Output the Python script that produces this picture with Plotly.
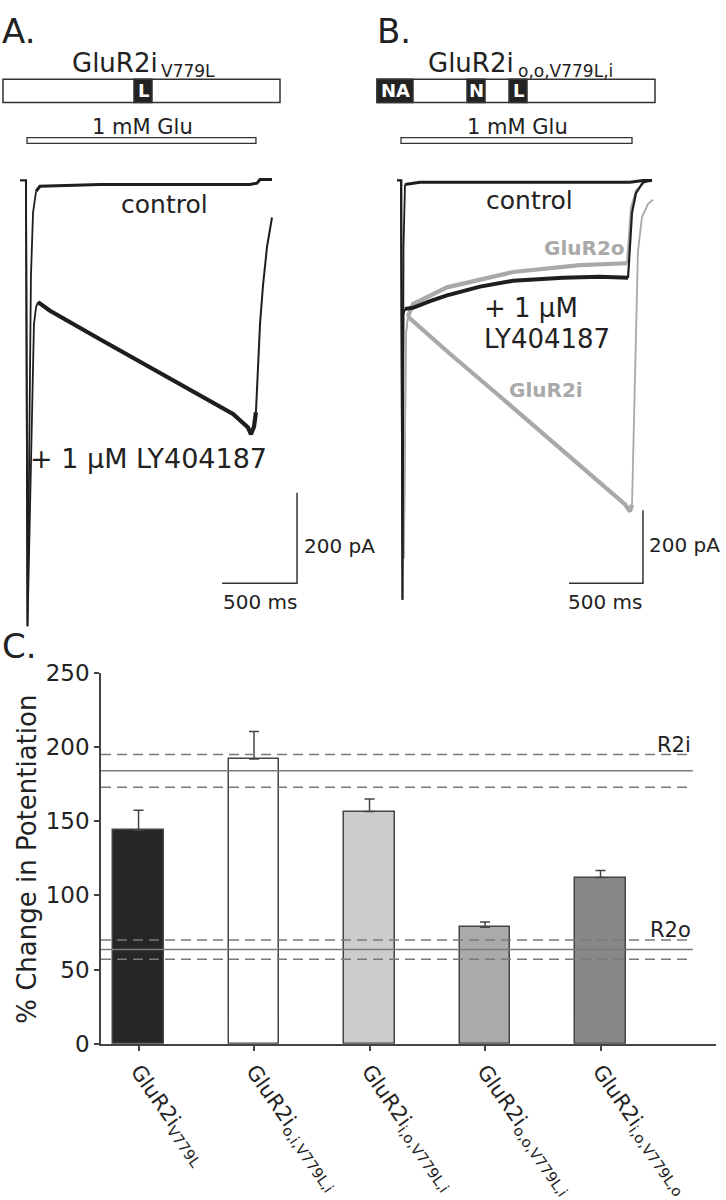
import plotly.graph_objects as go

W, H = 726, 1200
def PX(x): return x / W
def PY(y): return 1 - y / H

FONT = "DejaVu Sans"
DARK = "#222222"

# ---------------- data ----------------
# Panel A traces: time (ms) / current (pA)
a_ctrl_t = [0, 40, 50, 60, 73, 87, 107, 133, 533, 1200, 1533, 1580, 1600, 1680]
a_ctrl_i = [0, 0, -985, -662, -211, -71, -24, -13, -9, -9, -9, -6, 2, 2]
a_ly_t = [0, 40, 50, 60, 67, 80, 93, 107, 120, 200, 533, 867, 1200, 1420, 1520, 1540,
          1560, 1573, 1587, 1600, 1620, 1647, 1680]
a_ly_i = [0, 0, -985, -834, -705, -469, -318, -280, -269, -288, -351, -413, -475, -516,
          -546, -561, -544, -512, -426, -318, -232, -146, -82]
a_glu_ms = [47, 1573]

# Panel B traces
b_ctrl_t = [0, 27, 37, 44, 54, 155, 1574, 1662, 1723]
b_ctrl_i = [0, 0, -1149, -181, -11, -5, -5, 0, 0]
b_ly_t = [0, 27, 37, 44, 54, 108, 223, 338, 561, 784, 1122, 1372, 1561, 1574, 1588, 1615,
          1662, 1723]
b_ly_i = [0, 0, -1149, -368, -352, -349, -331, -315, -291, -275, -267, -264, -267, -181,
          -88, -35, -5, 0]
b_r2o_t = [0, 34, 47, 61, 74, 108, 338, 784, 1236, 1554, 1568, 1581, 1615, 1676, 1723]
b_r2o_i = [0, 0, -1035, -421, -373, -339, -293, -251, -232, -227, -155, -75, -27, -5, 0]
b_r2i_t = [0, 34, 47, 61, 74, 338, 696, 1101, 1372, 1541, 1574, 1588, 1601, 1615, 1628,
           1655, 1696, 1730]
b_r2i_i = [0, 0, -1035, -421, -373, -468, -592, -733, -829, -888, -907, -888, -661, -341,
           -195, -101, -64, -53]
b_glu_ms = [27, 1588]

scale_ms = 500
scale_pA = 200

# Panel C bar chart
bar_labels = ["GluR2i<sub>V779L</sub>", "GluR2i<sub>o,i,V779L,i</sub>",
              "GluR2i<sub>i,o,V779L,i</sub>", "GluR2i<sub>o,o,V779L,i</sub>",
              "GluR2i<sub>i,o,V779L,o</sub>"]
bar_means = [144, 192, 156.5, 78.5, 112]
bar_sem = [13.5, 18.5, 8.5, 3.5, 4.8]
bar_colors = ["#262626", "#ffffff", "#cccccc", "#aaaaaa", "#888888"]
ref_names = ["R2i", "R2o"]
ref_means = [184, 63.5]
ref_sem = [11, 6.5]
y_ticks = [0, 50, 100, 150, 200, 250]

# ---------------- figure ----------------
fig = go.Figure()

def trace(t, i, color, width, xa, ya):
    fig.add_trace(go.Scatter(x=t, y=i, mode="lines",
                             line=dict(color=color, width=width, shape="linear"),
                             xaxis=xa, yaxis=ya, showlegend=False, hoverinfo="skip"))

def segmented(t, i, color, xa, ya, cuts, widths):
    # draw a recording in phases (fast transients thin, noisy steady phases thick)
    for (a, b), w in zip(cuts, widths):
        trace(t[a:b + 1], i[a:b + 1], color, w, xa, ya)

GRAY = "#a9a9a9"
BLACK = "#1e1e1e"
segmented(a_ly_t, a_ly_i, BLACK, "x", "y", [(0, 8), (8, 17), (17, 22)], [1.8, 4.2, 2.0])
segmented(a_ctrl_t, a_ctrl_i, BLACK, "x", "y", [(0, 6), (6, 13)], [1.8, 3.0])
segmented(b_r2i_t, b_r2i_i, GRAY, "x2", "y2", [(0, 4), (4, 11), (11, 17)], [1.6, 4.2, 1.8])
segmented(b_r2o_t, b_r2o_i, GRAY, "x2", "y2", [(0, 4), (4, 9), (9, 14)], [1.6, 4.2, 2.0])
segmented(b_ly_t, b_ly_i, BLACK, "x2", "y2", [(0, 4), (4, 12), (12, 17)], [1.8, 4.0, 2.2])
segmented(b_ctrl_t, b_ctrl_i, BLACK, "x2", "y2", [(0, 4), (4, 8)], [1.8, 3.0])

# scale bars (data units)
SB = "#333333"
a_corner = (1847, -890)
b_corner = (1662, -1104)
trace([a_corner[0] - scale_ms, a_corner[0], a_corner[0]],
      [a_corner[1], a_corner[1], a_corner[1] + scale_pA], SB, 1.5, "x", "y")
trace([b_corner[0] - scale_ms, b_corner[0], b_corner[0]],
      [b_corner[1], b_corner[1], b_corner[1] + scale_pA], SB, 1.5, "x2", "y2")

# bars
fig.add_trace(go.Bar(
    x=list(range(len(bar_means))), y=bar_means, width=0.44,
    marker=dict(color=bar_colors, line=dict(color="#444444", width=1.5)),
    error_y=dict(type="data", array=bar_sem, arrayminus=[0] * len(bar_sem), symmetric=False,
                 color="#444444", thickness=1.5, width=5),
    xaxis="x3", yaxis="y3", showlegend=False, hoverinfo="skip"))

shapes = []
# reference lines
x_line_end = 4.80
for m, s in zip(ref_means, ref_sem):
    shapes.append(dict(type="line", xref="x3", yref="y3", x0=-0.325, x1=x_line_end, y0=m, y1=m,
                       line=dict(color="#7a7a7a", width=1.5), layer="above"))
    for v in (m - s, m + s):
        shapes.append(dict(type="line", xref="x3", yref="y3", x0=-0.325, x1=x_line_end, y0=v, y1=v,
                           line=dict(color="#7a7a7a", width=1.5, dash="10px,6px"), layer="above"))

# schematics
def rect(x0, y0, x1, y1, fill):
    shapes.append(dict(type="rect", xref="paper", yref="paper", x0=PX(x0), x1=PX(x1),
                       y0=PY(y1), y1=PY(y0), fillcolor=fill,
                       line=dict(color="#333333", width=1.5), layer="above"))

rect(3, 68, 280, 92, "white")
rect(134, 68, 152, 92, "#222222")
rect(377, 68, 655, 92, "white")
rect(377, 68, 413, 92, "#222222")
rect(467, 68, 485, 92, "#222222")
rect(509, 68, 527, 92, "#222222")

# Glu application bars (time axis)
for xa, (on, off) in (("x", a_glu_ms), ("x2", b_glu_ms)):
    shapes.append(dict(type="rect", xref=xa, yref="paper", x0=on, x1=off,
                       y0=PY(134), y1=PY(128), fillcolor="white",
                       line=dict(color="#333333", width=1.3)))

annots = []
def txt(s, x, y, size, xanchor="center", color=DARK, bold=False, angle=0):
    if bold:
        s = "<b>" + s + "</b>"
    annots.append(dict(text=s, x=PX(x), y=PY(y), xref="paper", yref="paper", showarrow=False,
                       xanchor=xanchor, yanchor="middle", textangle=angle,
                       font=dict(family=FONT, size=size, color=color)))

txt("A.", 0, 19, 34, "left")
txt("B.", 375, 19, 34, "left")
txt("C.", 0, 650, 34, "left")
txt("GluR2i", 70, 51, 26, "left")
txt("V779L", 159, 60, 17, "left")
txt("GluR2i", 426, 51, 26, "left")
txt("o,o,V779L,i", 516, 60, 17, "left")
txt("L", 143, 80, 18, color="white", bold=True)
txt("NA", 395, 80, 18, color="white", bold=True)
txt("N", 476, 80, 18, color="white", bold=True)
txt("L", 518, 80, 18, color="white", bold=True)
txt("1 mM Glu", 142, 117, 21)
txt("1 mM Glu", 517, 117, 21)
txt("control", 164, 197, 25)
txt("control", 529, 193, 25)
txt("+ 1 μM LY404187", 148, 458, 27)
txt("+ 1 μM", 482, 303, 26, "left")
txt("LY404187", 482, 335, 26, "left")
txt("GluR2o", 542, 241, 20, "left", color=GRAY, bold=True)
txt("GluR2i", 507, 387, 20, "left", color=GRAY, bold=True)
txt("200 pA", 302, 548, 20, "left")
txt("500 ms", 221, 605, 20, "left")
txt("200 pA", 647, 547, 20, "left")
txt("500 ms", 566, 605, 20, "left")
txt("% Change in Potentiation", 27, 870, 26, angle=-90)

for name, m, s in zip(ref_names, ref_means, ref_sem):
    annots.append(dict(text=name, x=x_line_end, y=m + s, xref="x3", yref="y3", showarrow=False,
                       xanchor="right", yanchor="bottom", yshift=-4,
                       font=dict(family=FONT, size=21, color=DARK)))

fig.update_layout(
    width=W, height=H, margin=dict(l=0, r=0, t=0, b=0),
    paper_bgcolor="white", plot_bgcolor="rgba(0,0,0,0)",
    shapes=shapes, annotations=annots, bargap=0,
    xaxis=dict(domain=[PX(0), PX(330)], range=[(0 - 20) / 0.15, (330 - 20) / 0.15],
               visible=False, anchor="y"),
    yaxis=dict(domain=[PY(640), PY(150)], range=[-(640 - 172) / 0.465, (172 - 150) / 0.465],
               visible=False, anchor="x"),
    xaxis2=dict(domain=[PX(370), PX(726)], range=[(370 - 397) / 0.148, (726 - 397) / 0.148],
                visible=False, anchor="y2"),
    yaxis2=dict(domain=[PY(640), PY(150)], range=[-(640 - 172) / 0.375, (172 - 150) / 0.375],
                visible=False, anchor="x2"),
    xaxis3=dict(domain=[PX(101), PX(716)], range=[-0.325, 5.0], anchor="y3",
                tickmode="array", tickvals=list(range(len(bar_labels))), ticktext=bar_labels,
                tickangle=55, ticks="outside", ticklen=5, tickwidth=1.5, tickcolor="#444444",
                showline=True, linecolor="#444444", linewidth=1.5, showgrid=False, zeroline=False,
                tickfont=dict(family=FONT, size=21, color=DARK)),
    yaxis3=dict(domain=[PY(1059), PY(678)], range=[0, 250], anchor="x3",
                tickmode="array", tickvals=y_ticks, ticks="outside", ticklen=5, tickwidth=1.5,
                tickcolor="#444444", showline=True, linecolor="#444444", linewidth=1.5,
                showgrid=False, zeroline=False,
                tickfont=dict(family=FONT, size=23, color=DARK)),
)

fig.write_html("out.html", config={"displayModeBar": False},
               post_script="document.body.style.margin='0px';")
